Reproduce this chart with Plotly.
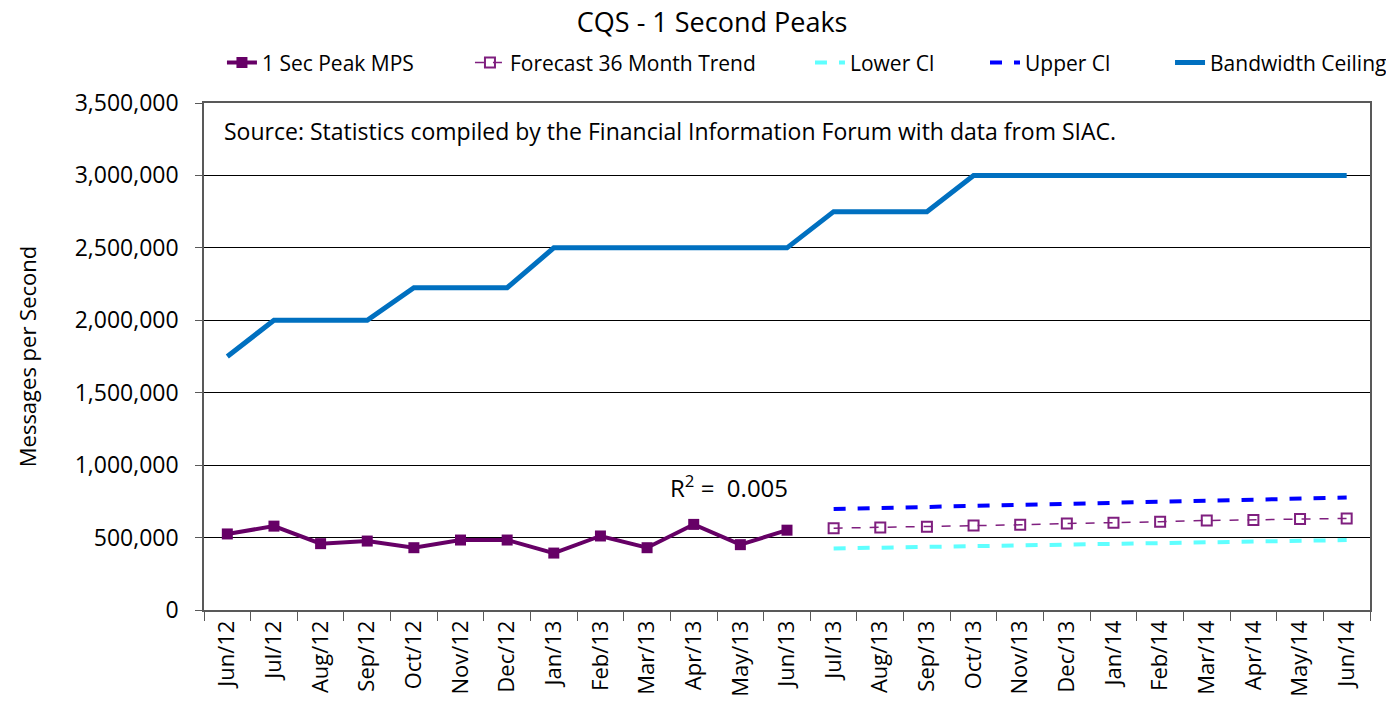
import plotly.graph_objects as go

months = ["Jun/12","Jul/12","Aug/12","Sep/12","Oct/12","Nov/12","Dec/12","Jan/13","Feb/13","Mar/13",
          "Apr/13","May/13","Jun/13","Jul/13","Aug/13","Sep/13","Oct/13","Nov/13","Dec/13","Jan/14",
          "Feb/14","Mar/14","Apr/14","May/14","Jun/14"]
peak_months = months[:13]
peak_mps = [525000, 579000, 458000, 476000, 430000, 483000, 483000, 393000, 511000, 430000, 591000, 451000, 551000]
fc_months = months[13:]
forecast = [565000, 570000, 574000, 583000, 588000, 597000, 602000, 609000, 618000, 621000, 628000, 632000]
upper_ci = [697000, 704000, 711000, 718000, 725000, 733000, 740000, 747000, 754000, 761000, 769000, 776000]
lower_ci = [425000, 430000, 435000, 441000, 446000, 451000, 457000, 462000, 467000, 472000, 478000, 483000]
bandwidth = [1750000, 2000000, 2000000, 2000000, 2225000, 2225000, 2225000, 2500000, 2500000, 2500000,
             2500000, 2500000, 2500000, 2750000, 2750000, 2750000, 3000000, 3000000, 3000000, 3000000,
             3000000, 3000000, 3000000, 3000000, 3000000]
y_ticks = [0, 500000, 1000000, 1500000, 2000000, 2500000, 3000000, 3500000]

FONT = "Open Sans"
W, H = 1378, 698
fig = go.Figure()
fig.add_trace(go.Scatter(x=peak_months, y=peak_mps, name="1 Sec Peak MPS", mode="lines+markers",
                         line=dict(color="#660066", width=4), marker=dict(symbol="square", size=11, color="#660066"),
                         legend="legend"))
fig.add_trace(go.Scatter(x=fc_months, y=forecast, name="Forecast 36 Month Trend", mode="lines+markers",
                         line=dict(color="#7F1F7F", width=1.5, dash="dash"),
                         marker=dict(symbol="square-open", size=10, color="#7F1F7F", line=dict(width=2)),
                         legend="legend2"))
fig.add_trace(go.Scatter(x=fc_months, y=lower_ci, name="Lower Cl", mode="lines",
                         line=dict(color="#5FFFFF", width=4, dash="dash"), legend="legend3"))
fig.add_trace(go.Scatter(x=fc_months, y=upper_ci, name="Upper Cl", mode="lines",
                         line=dict(color="#0000FF", width=4, dash="dash"), legend="legend4"))
fig.add_trace(go.Scatter(x=months, y=bandwidth, name="Bandwidth Ceiling", mode="lines",
                         line=dict(color="#0070C0", width=5), legend="legend5"))

def leg(x):
    return dict(orientation="h", x=x, xanchor="left", y=1.079, yanchor="middle",
                font=dict(size=21, family=FONT), bgcolor="rgba(0,0,0,0)")

fig.update_layout(
    width=W, height=H,
    margin=dict(l=196, r=16, t=95, b=96, autoexpand=False),
    paper_bgcolor="white", plot_bgcolor="white",
    font=dict(family=FONT, color="#000000", size=20),
    title=dict(text="CQS - 1 Second Peaks", x=0.511, xanchor="center", xref="container",
               y=1 - 15 / H, yanchor="middle", yref="container",
               font=dict(size=27, family=FONT)),
    legend=leg(0.0154), legend2=leg(0.2281), legend3=leg(0.5197), legend4=leg(0.6698), legend5=leg(0.8285),
    showlegend=True,
)
fig.update_xaxes(type="category", categoryorder="array", categoryarray=months,
                 tickangle=-90, tickson="boundaries", ticks="outside", ticklen=9,
                 tickcolor="#595959", showline=True, linecolor="#595959", linewidth=1.5, mirror=True,
                 showgrid=False, tickfont=dict(size=22, family=FONT), range=[-0.5, 24.5])
fig.update_yaxes(range=[0, 3500000], tickvals=y_ticks, tickformat=",d", ticks="outside", ticklen=7,
                 tickcolor="#595959", showline=True, linecolor="#595959", linewidth=1.5, mirror=True,
                 showgrid=True, gridcolor="#000000", gridwidth=1, zeroline=False,
                 tickfont=dict(size=23, family=FONT), ticklabelstandoff=12,
                 title=dict(text="Messages per Second", font=dict(size=22, family=FONT), standoff=32))

fig.add_annotation(x=0.0155, y=0.945, xref="paper", yref="paper", xanchor="left", yanchor="middle",
                   text="Source: Statistics compiled by the Financial Information Forum with data from SIAC.",
                   showarrow=False, font=dict(size=23, family=FONT))
fig.add_annotation(x="Mar/13", y=850000, xref="x", yref="y", xanchor="left", yanchor="middle", xshift=21,
                   text="R<sup>2</sup> =  0.005", showarrow=False, font=dict(size=24, family=FONT))

fig.write_html("out.html")
